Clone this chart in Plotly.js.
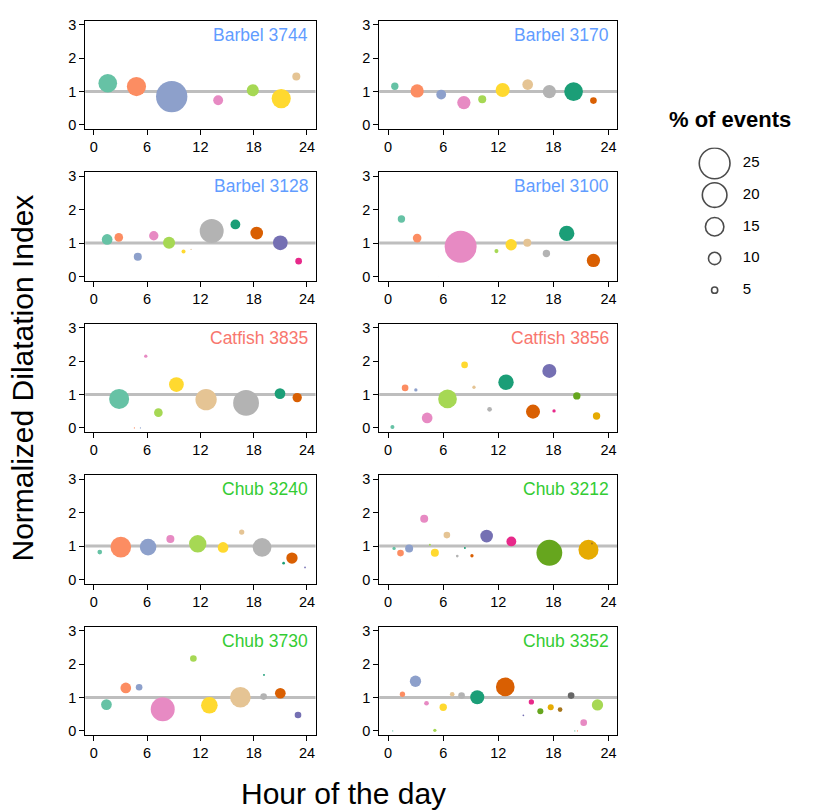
<!DOCTYPE html>
<html>
<head>
<meta charset="utf-8">
<script src="https://cdn.plot.ly/plotly-3.0.1.min.js"></script>
<style>
  body { margin: 0; background: #fff; }
  #chart { width: 830px; height: 810px; }
</style>
</head>
<body>
<div id="chart"></div>
<script>
// panel order: left column then right column, row by row
const fishNames = ["Barbel 3744", "Barbel 3170", "Barbel 3128", "Barbel 3100",
  "Catfish 3835", "Catfish 3856", "Chub 3240", "Chub 3212", "Chub 3730", "Chub 3352"];

// hour of the day, normalized dilatation index, % of events
const hrs3744 = [1.57, 4.8, 8.77, 14.0, 17.9, 21.1, 22.8];
const ndi3744 = [1.25, 1.15, 0.85, 0.74, 1.04, 0.79, 1.45];
const pct3744 = [15.2, 15.6, 25.5, 8, 9.8, 15.6, 6.5];

const hrs3170 = [0.73, 3.16, 5.78, 8.25, 10.25, 12.47, 15.2, 17.56, 20.2, 22.36];
const ndi3170 = [1.16, 1.02, 0.91, 0.67, 0.77, 1.05, 1.21, 1.0, 1.0, 0.73];
const pct3170 = [6, 10.8, 8, 10.8, 6.5, 11.4, 8.7, 10.8, 15.2, 5.4];

const hrs3128 = [1.5, 2.81, 4.95, 6.75, 8.47, 10.1, 10.95, 13.27, 15.94, 18.34, 21.0, 23.06];
const ndi3128 = [1.11, 1.17, 0.59, 1.22, 1.01, 0.75, 0.81, 1.36, 1.56, 1.3, 1.01, 0.46];
const pct3128 = [8.7, 7, 6.5, 7.6, 9.8, 3.3, 1, 19.5, 8, 10.3, 12, 5.4];

const hrs3100 = [1.45, 3.16, 5.5, 7.9, 11.8, 13.4, 15.16, 17.24, 19.45, 22.36];
const ndi3100 = [1.72, 1.15, 0.0, 0.89, 0.76, 0.95, 1.01, 0.69, 1.29, 0.48];
const pct3100 = [6, 7, 0.2, 26, 3.3, 9.2, 6.5, 6, 12.5, 10.8];

const hrs3835 = [2.85, 4.57, 5.25, 5.85, 7.27, 9.3, 12.64, 17.14, 20.96, 22.9];
const ndi3835 = [0.87, 0.0, 0.0, 2.15, 0.46, 1.3, 0.85, 0.75, 1.03, 0.91];
const pct3835 = [16.3, 1, 1, 2.7, 7, 12, 17.3, 21, 8.7, 7.6];

const hrs3856 = [0.47, 1.85, 3.02, 4.25, 6.47, 8.33, 9.35, 11.05, 12.84, 15.78, 17.56, 18.07, 20.55, 22.7];
const ndi3856 = [0.03, 1.2, 1.14, 0.3, 0.87, 1.89, 1.22, 0.56, 1.37, 0.49, 1.71, 0.51, 0.96, 0.36];
const pct3856 = [3.3, 5.4, 2.7, 8.7, 15.2, 5.4, 2.7, 3.8, 12.5, 11.4, 11.4, 2.7, 6, 6];

const hrs3240 = [0.67, 3.04, 6.11, 8.62, 11.7, 14.55, 16.65, 18.94, 21.37, 22.31, 23.78];
const ndi3240 = [0.82, 0.97, 0.97, 1.21, 1.07, 0.96, 1.42, 0.96, 0.49, 0.64, 0.36];
const pct3240 = [3.8, 16.8, 13.5, 6.5, 14.1, 8.7, 4.3, 15.2, 2.2, 9.2, 1.4];

const hrs3212 = [0.65, 1.35, 2.29, 3.93, 4.55, 5.09, 6.4, 7.53, 8.36, 9.13, 10.73, 13.42, 17.56, 21.82, 22.2];
const ndi3212 = [0.93, 0.79, 0.93, 1.82, 1.04, 0.8, 1.33, 0.7, 0.94, 0.71, 1.3, 1.14, 0.8, 0.89, 1.08];
const pct3212 = [2.7, 5.4, 6.5, 6.5, 1.6, 6.5, 5.4, 2.2, 1.6, 2.7, 10.3, 8, 21, 16.3, 1.6];

const hrs3730 = [1.42, 3.6, 5.1, 7.76, 11.21, 13.01, 16.5, 19.12, 19.16, 21.0, 22.99];
const ndi3730 = [0.79, 1.29, 1.31, 0.65, 2.17, 0.77, 1.01, 1.03, 1.68, 1.13, 0.48];
const pct3730 = [8.7, 8.7, 5.4, 19.5, 5.4, 13.5, 16.8, 5.4, 1.6, 8.7, 5.4];

const hrs3352 = [0.5, 1.56, 2.98, 4.18, 5.09, 6.0, 6.98, 8.0, 9.71, 12.76, 14.73, 15.6, 16.58, 17.71,
  18.73, 19.93, 20.33, 20.62, 21.0, 21.3, 22.8];
const ndi3352 = [0.0, 1.1, 1.49, 0.83, 0.02, 0.71, 1.1, 1.06, 1.01, 1.32, 0.47, 0.87, 0.59, 0.71,
  0.64, 1.06, 0.0, 0.0, 0.0, 0.25, 0.78];
const pct3352 = [1, 4.3, 9.2, 3.8, 2.7, 6, 3.8, 5.4, 11.4, 15.2, 1.4, 4.3, 4.9, 4.9,
  3.8, 5.4, 1, 1, 0.2, 5.4, 9.2];

const panelHours = [hrs3744, hrs3170, hrs3128, hrs3100, hrs3835, hrs3856, hrs3240, hrs3212, hrs3730, hrs3352];
const panelIndex = [ndi3744, ndi3170, ndi3128, ndi3100, ndi3835, ndi3856, ndi3240, ndi3212, ndi3730, ndi3352];
const panelPct = [pct3744, pct3170, pct3128, pct3100, pct3835, pct3856, pct3240, pct3212, pct3730, pct3352];

const legendPct = [25, 20, 15, 10, 5];
const legendRank = [5, 4, 3, 2, 1];

// Set2 followed by Dark2, assigned in order within each panel
const palette = ["#66C2A5", "#FC8D62", "#8DA0CB", "#E78AC3", "#A6D854", "#FFD92F", "#E5C494", "#B3B3B3",
  "#1B9E77", "#D95F02", "#7570B3", "#E7298A", "#66A61E", "#E6AB02", "#A6761D", "#666666"];
const speciesColor = { Barbel: "#619CFF", Catfish: "#F8766D", Chub: "#33CC33" };

const W = 830, H = 810;
const FONT = "Liberation Sans, Arial, Helvetica, sans-serif";
const sizeRef = 1 / 1.23;

const colLeft = [[85.3, 315.5], [379.3, 617.3]];

const traces = [];
const layout = {
  width: W, height: H,
  margin: { l: 0, r: 0, t: 0, b: 0 },
  paper_bgcolor: "#fff",
  plot_bgcolor: "#fff",
  showlegend: false,
  hovermode: false,
  font: { family: FONT, color: "#000" },
  shapes: [],
  annotations: []
};

fishNames.forEach((name, k) => {
  const row = Math.floor(k / 2), col = k % 2;
  const id = k === 0 ? "" : String(k + 1);
  const bottom = 129 + 151.5 * row;
  const top = bottom - 108.2;

  traces.push({
    type: "scatter",
    mode: "markers",
    x: panelHours[k],
    y: panelIndex[k],
    xaxis: "x" + id,
    yaxis: "y" + id,
    marker: {
      size: panelPct[k],
      sizemode: "diameter",
      sizeref: sizeRef,
      color: panelHours[k].map((_, i) => palette[i % palette.length]),
      opacity: 1,
      line: { width: 0 }
    }
  });

  const axisCommon = {
    showline: true, mirror: true, linecolor: "#000", linewidth: 1,
    ticks: "outside", ticklen: 5, tickwidth: 1, tickcolor: "#000",
    showgrid: false, zeroline: false, fixedrange: true,
    tickfont: { family: FONT, size: 14.5, color: "#000" }
  };
  layout["xaxis" + id] = Object.assign({}, axisCommon, {
    domain: [colLeft[col][0] / W, colLeft[col][1] / W],
    range: [-0.96, 24.96],
    tickvals: [0, 6, 12, 18, 24],
    anchor: "y" + id
  });
  layout["yaxis" + id] = Object.assign({}, axisCommon, {
    domain: [1 - bottom / H, 1 - top / H],
    range: [-0.12, 3.12],
    tickvals: [0, 1, 2, 3],
    anchor: "x" + id
  });

  layout.shapes.push({
    type: "line", layer: "below",
    xref: "x" + id + " domain", x0: 0, x1: 1,
    yref: "y" + id, y0: 1, y1: 1,
    line: { color: "#BEBEBE", width: 3 }
  });

  layout.annotations.push({
    text: name,
    xref: "x" + id + " domain", yref: "y" + id + " domain",
    x: 1, y: 1, xanchor: "right", yanchor: "top",
    xshift: -6, yshift: -2,
    showarrow: false,
    font: { family: FONT, size: 17.5, color: speciesColor[name.split(" ")[0]] }
  });
});

// size legend
traces.push({
  type: "scatter", mode: "markers",
  x: legendRank.map(() => 0.305), y: legendRank,
  xaxis: "x11", yaxis: "y11",
  marker: {
    size: legendPct, sizemode: "diameter", sizeref: sizeRef,
    color: "rgba(0,0,0,0)", line: { color: "#000", width: 1.6 }
  }
});
traces.push({
  type: "scatter", mode: "text",
  x: legendRank.map(() => 0.475), y: legendRank,
  text: legendPct.map(String),
  textposition: "middle right",
  textfont: { family: FONT, size: 15, color: "#000" },
  xaxis: "x11", yaxis: "y11"
});
layout.xaxis11 = { domain: [0.8, 1.0], range: [0, 1], visible: false, fixedrange: true, anchor: "y11" };
layout.yaxis11 = { domain: [1 - 306 / H, 1 - 147.5 / H], range: [0.5, 5.5], visible: false, fixedrange: true, anchor: "x11" };

layout.annotations.push({
  text: "<b>% of events</b>", xref: "paper", yref: "paper",
  x: 730 / W, y: 1 - 119 / H, xanchor: "center", yanchor: "middle",
  showarrow: false, font: { family: FONT, size: 22, color: "#000" }
});
layout.annotations.push({
  text: "Normalized Dilatation Index", xref: "paper", yref: "paper",
  x: 22 / W, y: 1 - 378.5 / H, xanchor: "center", yanchor: "middle",
  textangle: -90, showarrow: false, font: { family: FONT, size: 30, color: "#000" }
});
layout.annotations.push({
  text: "Hour of the day", xref: "paper", yref: "paper",
  x: 343.5 / W, y: 1 - 793 / H, xanchor: "center", yanchor: "middle",
  showarrow: false, font: { family: FONT, size: 30, color: "#000" }
});

Plotly.newPlot("chart", traces, layout, { staticPlot: true, displayModeBar: false });
</script>
</body>
</html>
